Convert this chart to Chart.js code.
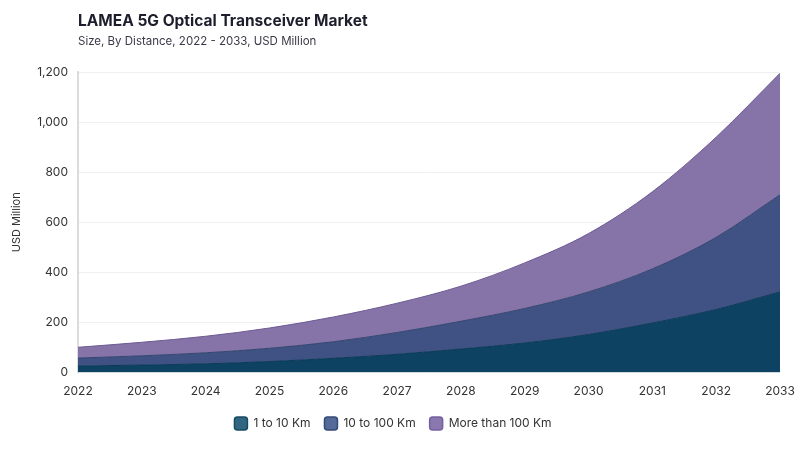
<!DOCTYPE html>
<html lang="en">
<head>
<meta charset="utf-8" />
<title>LAMEA 5G Optical Transceiver Market</title>
<script src="https://cdn.jsdelivr.net/npm/chart.js@4.4.1/dist/chart.umd.min.js"></script>
<style>
  body { margin: 0; background: #fff; font-family: Inter, "Noto Sans", sans-serif; }
  #wrap { position: relative; width: 800px; height: 450px; }
  #title { position: absolute; left: 78px; top: 11px; font-size: 15.5px; font-weight: 700; color: #1d1d2c; }
  #subtitle { position: absolute; left: 78px; top: 34px; font-size: 11.5px; color: #3a3a48; }
  canvas { position: absolute; left: 0; top: 0; }
</style>
</head>
<body>
<div id="wrap">
  <canvas id="myChart" width="800" height="450"></canvas>
  <div id="title">LAMEA 5G Optical Transceiver Market</div>
  <div id="subtitle">Size, By Distance, 2022 - 2033, USD Million</div>
</div>
<script>
// values (USD Million)
var years = ["2022", "2023", "2024", "2025", "2026", "2027", "2028", "2029", "2030", "2031", "2032", "2033"];
var shortRange = [26, 30, 35, 44, 57, 73, 94, 118, 152, 198, 252, 322];
var midRange   = [32, 37, 44, 53, 66, 87, 111, 138, 170, 216, 288, 388];
var longRange  = [43, 54, 66, 81, 99, 117, 140, 182, 233, 308, 400, 485];

var ctx = document.getElementById("myChart").getContext("2d");

function area(label, data, fill, line, fillTo) {
    return {
        label: label,
        data: data,
        backgroundColor: fill,
        borderColor: line,
        borderWidth: 1,
        fill: fillTo,
        cubicInterpolationMode: "monotone",
        pointRadius: 0,
        pointHoverRadius: 0
    };
}

var myChart = new Chart(ctx, {
    type: 'line',
    data: {
        labels: years,
        datasets: [
            area("1 to 10 Km", shortRange, "#0e4262", "#0b3a57", "origin"),
            area("10 to 100 Km", midRange, "#3f5283", "#34466f", "-1"),
            area("More than 100 Km", longRange, "#8673a8", "#6d5a93", "-1")
        ]
    },
    options: {
        responsive: false,
        animation: false,
        layout: { padding: { top: 72, right: 20, left: 6, bottom: 10 } },
        scales: {
            x: {
                offset: false,
                grid: { display: false },
                border: { display: false },
                ticks: { color: "#333", font: { family: "Inter", size: 12 }, padding: 4, maxRotation: 0 }
            },
            y: {
                stacked: true,
                min: 0,
                max: 1200,
                grid: { color: "#efefef", drawTicks: false },
                border: { display: true, color: "#dcdcdc", width: 2 },
                ticks: {
                    stepSize: 200,
                    color: "#333",
                    padding: 10,
                    font: { family: "Inter", size: 12 },
                    callback: function (v) { return v.toLocaleString("en-US"); }
                },
                title: { display: true, text: "USD Million", color: "#333", font: { family: "Inter", size: 11 } }
            }
        },
        plugins: {
            tooltip: { enabled: false },
            legend: {
                position: "bottom",
                labels: {
                    color: "#333",
                    font: { family: "Inter", size: 12 },
                    boxWidth: 13,
                    boxHeight: 13,
                    useBorderRadius: true,
                    borderRadius: 3,
                    padding: 14,
                    generateLabels: function (chart) {
                        var borders = ["#164b66", "#334a7a", "#7461a0"];
                        var fills = ["#30667f", "#566a99", "#8a77ad"];
                        return chart.data.datasets.map(function (ds, i) {
                            return {
                                text: ds.label,
                                fillStyle: fills[i],
                                strokeStyle: borders[i],
                                lineWidth: 1.5,
                                borderRadius: 3,
                                datasetIndex: i,
                                fontColor: "#333"
                            };
                        });
                    }
                }
            }
        }
    }
});
</script>
</body>
</html>
